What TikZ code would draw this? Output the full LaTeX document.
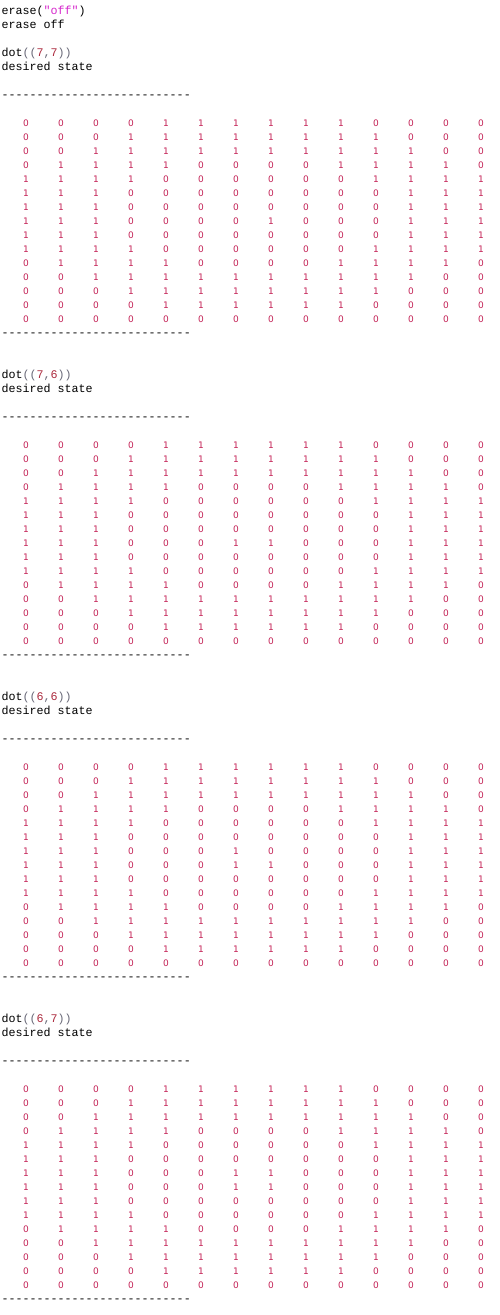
\documentclass[tikz,border=0pt]{standalone}
\usepackage{fontspec}
\setmonofont{Liberation Mono}
\newfontfamily\digitfont{DejaVu Sans}
\definecolor{strc}{RGB}{214,40,204}
\definecolor{parc}{RGB}{105,105,120}
\definecolor{numc}{RGB}{172,42,62}
\definecolor{digc}{RGB}{196,34,86}
\newcommand\dotcall[2]{dot\textcolor{parc}{((}\textcolor{numc}{#1}\textcolor{parc}{,}\textcolor{numc}{#2}\textcolor{parc}{))}}
\newcommand\dashrow{-{}-{}-{}-{}-{}-{}-{}-{}-{}-{}-{}-{}-{}-{}-{}-{}-{}-{}-{}-{}-{}-{}-{}-{}-{}-{}-{}}
\newcommand\drawgrid[3]{%
  \foreach \rowlist [count=\r from 0] in {#3} {
    \foreach \v [count=\c from 0] in \rowlist {
      \node[digit] (#1-\r-\c) at ({26+35*\c},{14+14*(#2+\r)}) {\v};
    }
  }
}
\begin{document}
\begin{tikzpicture}[x=1pt,y=-1pt,
  code/.style={anchor=base west,inner sep=0pt,font=\fontsize{11.67}{14}\selectfont\ttfamily},
  digit/.style={anchor=base,inner sep=0pt,font=\fontsize{9}{10}\selectfont\digitfont,text=digc}]
\useasboundingbox (0,0) rectangle (499,1315);
\fill[white] (0,0) rectangle (499,1315);

\node[code] (erasecall) at (1.5,14) {erase(\textcolor{strc}{"off"})};
\node[code] (eraseout) at (1.5,28) {erase off};

% block 1
\node[code] (dotA) at (1.5,{14+14*3}) {\dotcall{7}{7}};
\node[code] (desA) at (1.5,{14+14*4}) {desired state};
\node[code] (dashA1) at (1.5,{14+14*6}) {\dashrow};
\drawgrid{gA}{8}{
{0,0,0,0,1,1,1,1,1,1,0,0,0,0},
{0,0,0,1,1,1,1,1,1,1,1,0,0,0},
{0,0,1,1,1,1,1,1,1,1,1,1,0,0},
{0,1,1,1,1,0,0,0,0,1,1,1,1,0},
{1,1,1,1,0,0,0,0,0,0,1,1,1,1},
{1,1,1,0,0,0,0,0,0,0,0,1,1,1},
{1,1,1,0,0,0,0,0,0,0,0,1,1,1},
{1,1,1,0,0,0,0,1,0,0,0,1,1,1},
{1,1,1,0,0,0,0,0,0,0,0,1,1,1},
{1,1,1,1,0,0,0,0,0,0,1,1,1,1},
{0,1,1,1,1,0,0,0,0,1,1,1,1,0},
{0,0,1,1,1,1,1,1,1,1,1,1,0,0},
{0,0,0,1,1,1,1,1,1,1,1,0,0,0},
{0,0,0,0,1,1,1,1,1,1,0,0,0,0},
{0,0,0,0,0,0,0,0,0,0,0,0,0,0}}
\node[code] (dashA2) at (1.5,{14+14*23}) {\dashrow};

% block 2
\node[code] (dotB) at (1.5,{14+14*26}) {\dotcall{7}{6}};
\node[code] (desB) at (1.5,{14+14*27}) {desired state};
\node[code] (dashB1) at (1.5,{14+14*29}) {\dashrow};
\drawgrid{gB}{31}{
{0,0,0,0,1,1,1,1,1,1,0,0,0,0},
{0,0,0,1,1,1,1,1,1,1,1,0,0,0},
{0,0,1,1,1,1,1,1,1,1,1,1,0,0},
{0,1,1,1,1,0,0,0,0,1,1,1,1,0},
{1,1,1,1,0,0,0,0,0,0,1,1,1,1},
{1,1,1,0,0,0,0,0,0,0,0,1,1,1},
{1,1,1,0,0,0,0,0,0,0,0,1,1,1},
{1,1,1,0,0,0,1,1,0,0,0,1,1,1},
{1,1,1,0,0,0,0,0,0,0,0,1,1,1},
{1,1,1,1,0,0,0,0,0,0,1,1,1,1},
{0,1,1,1,1,0,0,0,0,1,1,1,1,0},
{0,0,1,1,1,1,1,1,1,1,1,1,0,0},
{0,0,0,1,1,1,1,1,1,1,1,0,0,0},
{0,0,0,0,1,1,1,1,1,1,0,0,0,0},
{0,0,0,0,0,0,0,0,0,0,0,0,0,0}}
\node[code] (dashB2) at (1.5,{14+14*46}) {\dashrow};

% block 3
\node[code] (dotC) at (1.5,{14+14*49}) {\dotcall{6}{6}};
\node[code] (desC) at (1.5,{14+14*50}) {desired state};
\node[code] (dashC1) at (1.5,{14+14*52}) {\dashrow};
\drawgrid{gC}{54}{
{0,0,0,0,1,1,1,1,1,1,0,0,0,0},
{0,0,0,1,1,1,1,1,1,1,1,0,0,0},
{0,0,1,1,1,1,1,1,1,1,1,1,0,0},
{0,1,1,1,1,0,0,0,0,1,1,1,1,0},
{1,1,1,1,0,0,0,0,0,0,1,1,1,1},
{1,1,1,0,0,0,0,0,0,0,0,1,1,1},
{1,1,1,0,0,0,1,0,0,0,0,1,1,1},
{1,1,1,0,0,0,1,1,0,0,0,1,1,1},
{1,1,1,0,0,0,0,0,0,0,0,1,1,1},
{1,1,1,1,0,0,0,0,0,0,1,1,1,1},
{0,1,1,1,1,0,0,0,0,1,1,1,1,0},
{0,0,1,1,1,1,1,1,1,1,1,1,0,0},
{0,0,0,1,1,1,1,1,1,1,1,0,0,0},
{0,0,0,0,1,1,1,1,1,1,0,0,0,0},
{0,0,0,0,0,0,0,0,0,0,0,0,0,0}}
\node[code] (dashC2) at (1.5,{14+14*69}) {\dashrow};

% block 4
\node[code] (dotD) at (1.5,{14+14*72}) {\dotcall{6}{7}};
\node[code] (desD) at (1.5,{14+14*73}) {desired state};
\node[code] (dashD1) at (1.5,{14+14*75}) {\dashrow};
\drawgrid{gD}{77}{
{0,0,0,0,1,1,1,1,1,1,0,0,0,0},
{0,0,0,1,1,1,1,1,1,1,1,0,0,0},
{0,0,1,1,1,1,1,1,1,1,1,1,0,0},
{0,1,1,1,1,0,0,0,0,1,1,1,1,0},
{1,1,1,1,0,0,0,0,0,0,1,1,1,1},
{1,1,1,0,0,0,0,0,0,0,0,1,1,1},
{1,1,1,0,0,0,1,1,0,0,0,1,1,1},
{1,1,1,0,0,0,1,1,0,0,0,1,1,1},
{1,1,1,0,0,0,0,0,0,0,0,1,1,1},
{1,1,1,1,0,0,0,0,0,0,1,1,1,1},
{0,1,1,1,1,0,0,0,0,1,1,1,1,0},
{0,0,1,1,1,1,1,1,1,1,1,1,0,0},
{0,0,0,1,1,1,1,1,1,1,1,0,0,0},
{0,0,0,0,1,1,1,1,1,1,0,0,0,0},
{0,0,0,0,0,0,0,0,0,0,0,0,0,0}}
\node[code] (dashD2) at (1.5,{14+14*92}) {\dashrow};
\end{tikzpicture}
\end{document}
